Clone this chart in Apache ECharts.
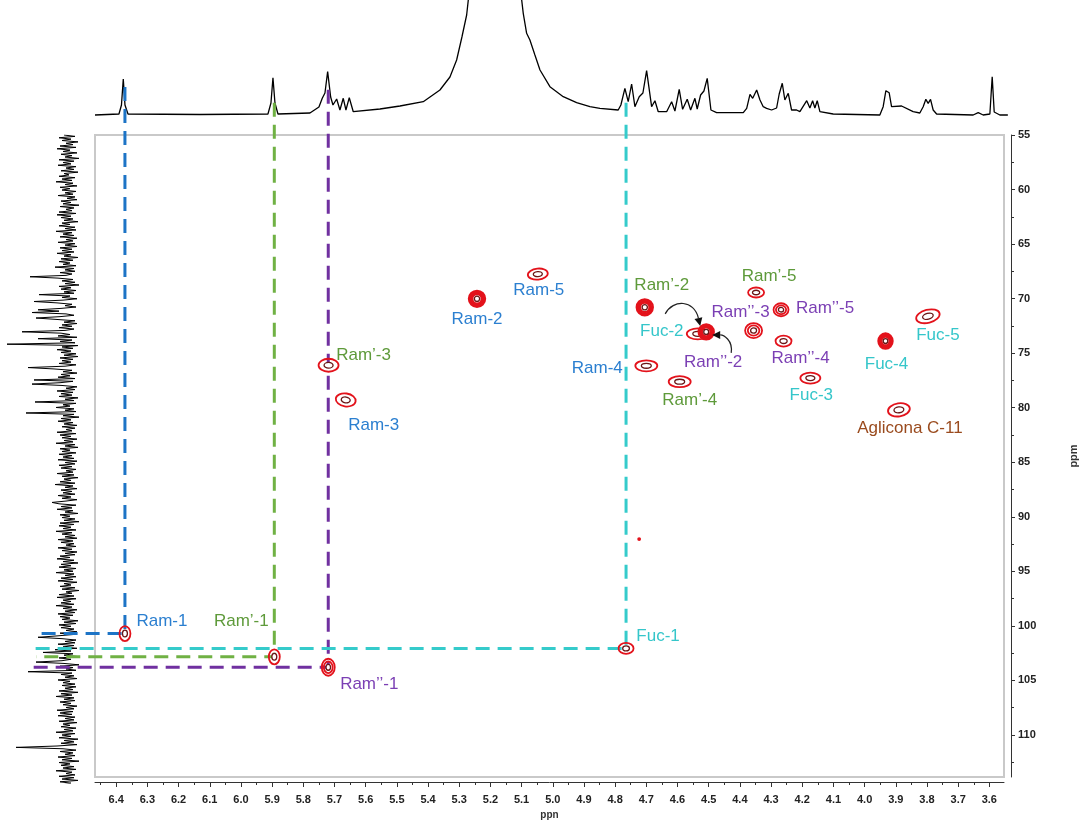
<!DOCTYPE html>
<html><head><meta charset="utf-8">
<script src="https://cdn.jsdelivr.net/npm/echarts@6/dist/echarts.min.js"></script>
<style>html,body{margin:0;padding:0;background:#fff;overflow:hidden;width:1087px;height:825px}#c{width:1087px;height:825px}</style>
</head><body><div id="c"></div>
<script>
// ---------------- DATA ----------------
const xTickLabels = [6.4,6.3,6.2,6.1,6.0,5.9,5.8,5.7,5.6,5.5,5.4,5.3,5.2,5.1,5.0,4.9,4.8,4.7,4.6,4.5,4.4,4.3,4.2,4.1,4.0,3.9,3.8,3.7,3.6];
const yTickLabels = [55,60,65,70,75,80,85,90,95,100,105,110];

// HSQC cross-peaks (1H ppm, 13C ppm)
const peakNames = ['Ram-1','Ram’-1','Ram’’-1','Fuc-1','Ram’-3','Ram-3','Ram-2','Ram-5','Ram-4','Ram’-2','Fuc-2','Ram’’-2','Ram’’-3','Ram’-5','Ram’’-5','Ram’’-4','Fuc-4','Fuc-5','Fuc-3','Aglicona C-11','Ram’-4',''];
const peakH = [6.372,5.893,5.720,4.765,5.719,5.664,5.243,5.048,4.700,4.705,4.535,4.508,4.356,4.348,4.268,4.260,3.933,3.797,4.174,3.890,4.593,4.723];
const peakC = [100.71,102.84,103.80,102.07,76.11,79.29,70.02,67.75,76.16,70.80,73.23,73.05,72.93,69.44,71.02,73.89,73.89,71.62,77.29,80.20,77.62,92.05];
const peakGroup = ['Ram','Ram1','Ram2','Fuc','Ram1','Ram','Ram','Ram','Ram','Ram1','Fuc','Ram2','Ram2','Ram1','Ram2','Ram2','Fuc','Fuc','Fuc','Agl','Ram1','none'];

// anomeric correlations (indices into peaks) drawn as dashed guides
const anomericIdx = [0,1,2,3];

// 1H projection (top): ppm / intensity
const topPpm = [6.468,6.3914,6.3834,6.3776,6.3722,6.3626,6.1325,5.9152,5.9056,5.8992,5.8928,5.8832,5.7810,5.7522,5.7416,5.7330,5.7244,5.7148,5.7074,5.6956,5.6851,5.6745,5.6659,5.6553,5.6425,5.5572,5.4933,5.4188,5.3655,5.3335,5.3121,5.2952,5.2801,5.2696,5.2376,5.1865,5.1418,5.1098,5.0992,5.0884,5.0779,5.0619,5.0457,5.0139,4.9714,4.9286,4.8861,4.8541,4.7957,4.7871,4.7743,4.7637,4.7528,4.7423,4.7285,4.7167,4.7049,4.6889,4.6783,4.6677,4.6409,4.6249,4.6144,4.6007,4.5898,4.5751,4.5642,4.5505,4.5432,4.5323,4.5217,4.5112,4.4993,4.4811,4.3959,4.3850,4.3745,4.3658,4.3531,4.3425,4.3322,4.3214,4.3054,4.2894,4.2811,4.2713,4.2630,4.2522,4.2416,4.2256,4.2150,4.1931,4.1830,4.1743,4.1671,4.1596,4.1510,4.1085,3.9594,3.9488,3.9401,3.9297,3.9220,3.8900,3.8530,3.8316,3.8209,3.8124,3.8050,3.7974,3.7890,3.7780,3.6611,3.6450,3.6291,3.6077,3.6003,3.5939,3.5759,3.5503];
const topInt = [0,1,10,36,10,1,0.5,1,12,37.3,12,1,2,8,16.7,22,43.3,18,10,16,5,16.7,5,17.3,3.3,6,9,13.3,25,38,55,78,100,130,300,600,300,130,101.7,81.7,75,60,45,28.3,18.3,12.3,8.3,6.7,5,10,26.7,13.3,31,8.3,18.3,22,44.3,8.3,14.3,3.3,3.3,13.3,4,25.7,5.7,15.7,5,16.7,6,20,24,36.7,5,2.3,2.3,6.7,20.7,16.7,25,15,8.3,6.7,5,7,21,31.7,15,21.7,5,5,3.3,14.3,7,14.3,7,14.3,3.3,1,0,8.3,24.3,22.3,8.3,9,3.3,2,8.3,15.7,11.7,15.7,5,1,0,2.3,0,1,38.3,3,0,0];

// 13C projection (left): noise sampled every 0.125 ppm from 55 ppm, plus resolved signals
const leftStart = 55, leftStep = 0.125;
const leftNoise = [
 4,-7,9,-3,6,-10,2,-5,8,-8,11,-2,5,-9,7,-4,3,-11,9,-6,
 5,-3,10,-8,2,-6,7,-10,4,-1,9,-7,6,-4,12,-5,3,-9,8,-2,
 6,-8,3,-5,10,-7,1,-9,7,-3,5,-11,8,-6,2,-4,9,-8,11,-3,
 7,-5,4,-10,6,-2,9,-7,3,-8,12,-4,5,-6,8,-9,2,-5,10,-7,
 3,-9,8,-4,6,-6,11,-3,4,-10,7,-5,9,-2,5,-8,13,-6,3,-7,
 8,-4,2,-9,10,-5,6,-7,3,-11,9,-3,7,-8,4,-6,10,-2,6,-9,
 5,-7,11,-4,3,-8,7,-5,9,-10,2,-6,8,-3,12,-7,4,-9,6,-4,
 9,-6,3,-8,7,-2,10,-9,5,-4,8,-7,2,-10,6,-5,11,-3,7,-8,
 4,-10,8,-5,6,-3,9,-8,3,-6,14,-4,5,-9,7,-2,10,-7,4,-5,
 8,-3,6,-9,2,-7,11,-5,7,-4,9,-10,3,-6,8,-8,5,-2,12,-6,
 3,-8,9,-6,5,-11,7,-3,10,-5,4,-9,6,-7,2,-4,11,-8,8,-3,
 6,-9,4,-5,12,-7,3,-10,8,-2,6,-8,9,-4,5,-6,10,-9,3,-7,
 9,-4,7,-8,2,-5,11,-6,6,-10,4,-3,8,-7,13,-5,3,-9,7,-4,
 5,-7,10,-3,6,-9,2,-6,9,-8,7,-4,11,-5,3,-10,8,-2,6,-7,
 4,-11,8,-6,9,-3,5,-8,12,-4,6,-7,3,-9,10,-5,7,-6,2,-8,
 10,-4,6,-9,3,-7,8,-2,11,-6,5,-10,7,-3,9,-8,4,-5,12,-6,
 3,-8,7,-5,10,-9,4,-3,8,-7,6,-11,2,-4,9,-6,11,-8,5,-3,
 7,-6,12,-4,5,-9,3,-7,10,-5,8,-2,6,-10,4,-8,9,-3,7,-6,
 2,-9,8,-5,11,-4,6,-8,3,-7,10,-6,5,-9,13,-3,7,-5,4,-10,
 9,-3,6,-7,4,-11,8,-5,2,-8,11,-4,7,-6,3,-9,10,-2,5,-7,
 6,-8,3,-5,9,-10,7,-4,12,-6,4,-7,8,-3,5,-9,2,-6,11,-5,
 8,-4,10,-7,3,-6,9,-9,5,-2,7,-8,4,-5,12,-7,6,-3,9,-10,
 4,-6,7,-9,11,-3,5,-8,8,-5,3,-7,10,-4,6,-11,9,-2,7,-6,
 5,-8,12,-4,2,-7,9,-6,6,-10,8,-3,4,-9,7,-5,11,-7,3,-4];
const spikePpm = [67.84,69.50,70.11,70.86,71.11,71.62,72.89,73.44,73.95,76.16,77.23,77.62,79.29,80.25,88.4,100.68,102.05,102.84,103.77,110.65];
const spikeInt = [38,29,34,30,36,32,46,30,61,40,34,36,33,42,16,30,25,32,40,52];

// ---------------- LAYOUT / STYLE ----------------
const X_MIN = 3.553, X_MAX = 6.468, Y_MIN = 55, Y_MAX = 113.86;
const groupColor = {Ram:'#2b7fd0', Ram1:'#5e9a3a', Ram2:'#7b3fb4', Fuc:'#35c6ca', Agl:'#9a4b1e', none:'#e3121b'};
const guideColor = {Ram:'#1d74c6', Ram1:'#70b144', Ram2:'#7030a0', Fuc:'#35cbcb'};
// guide extents (top end in 13C units, left end in 1H units) for each anomeric guide
const guideTop = [50.59, 52.05, 50.86, 52.05];
const guideLeft = [6.650, 6.657, 6.682, 6.663];
// contour shape per peak: [rx, ry, rings, rotation]
const peakShape = [[5.5,7.5,2,0],[5.5,7.5,2,0],[6.5,8.5,3,0],[7.5,5.5,2,0],[10,6.5,2,0],[10,6.5,2,-0.15],[8,8,4,0],[10,5.5,2,0.1],[11,5.5,2,0],[8,8,4,0],[11,5.5,2,0],[7.5,7.5,4,0],[8.5,7.5,3,0],[8,5,2,0],[7.5,6.5,3,0],[8,5.5,2,0],[7,7.5,4,0],[12,6.5,2,0.25],[10,5.5,2,0],[11,6.5,2,0.15],[11,5.5,2,0],[1,1,1,0]];
const labelOffset = [[37,-12],[-33,-35],[41,17],[32,-12],[35,-10],[28,25],[0,20],[1,16],[-49,3],[17,-22],[-36,-3],[7,30],[-13,-18],[13,-16],[44,-1],[17,17],[1,23],[10,19],[1,17],[11,18],[10,19],[0,0]];
const RINGS = {1:[1],2:[1,0.45],3:[1,0.68,0.35],4:[1,0.8,0.6,0.33]};
const ARROWS = [
  {p0:[-41,-18], c1:[-33,-33], c2:[-12,-32], p3:[-6,-6]},
  {p0:[25,21], c1:[27,8], c2:[17,3], p3:[6,3]}
];
const LABEL_FONT = '17px "Liberation Sans", Arial, sans-serif';
const TICK_FONT = {color:'#222', fontFamily:'Liberation Sans', fontWeight:'bold', fontSize:11};

// ---------------- BUILD ----------------
const xMinorTicks = xTickLabels.map(v => +(v + 0.05).toFixed(2)).concat([3.55]);
const yMinorTicks = yTickLabels.map(v => v + 2.5);

const topData = topPpm.map((p, i) => [p, topInt[i]]);
const leftVals = leftNoise.slice();
spikePpm.forEach((p, k) => { const i = Math.round((p - leftStart) / leftStep); if (i >= 0 && i < leftVals.length) leftVals[i] = spikeInt[k]; });
const leftData = leftVals.map((v, i) => [v, leftStart + i * leftStep]);
const peakData = peakH.map((h, i) => [h, peakC[i]]);
const guideData = anomericIdx.map(pi => [peakH[pi], peakC[pi]]);

function renderGuide(params, api) {
  const k = params.dataIndex;
  const pi = anomericIdx[k];
  const a = api.coord([api.value(0), guideTop[k]]);
  const b = api.coord([api.value(0), api.value(1)]);
  const c = api.coord([guideLeft[k], api.value(1)]);
  return {type:'polyline', shape:{points:[a, b, c]},
    style:{stroke: guideColor[peakGroup[pi]], lineWidth:3, lineDash:[14,8], fill:null}};
}

function renderPeak(params, api) {
  const i = params.dataIndex;
  const p = api.coord([api.value(0), api.value(1)]);
  const s = peakShape[i];
  const rings = RINGS[s[2]];
  const children = [];
  rings.forEach((k, j) => {
    const last = rings.length > 1 && j === rings.length - 1;
    const single = rings.length === 1;
    children.push({type:'ellipse', x:p[0], y:p[1], rotation:s[3],
      shape:{cx:0, cy:0, rx:s[0]*k, ry:s[1]*k},
      style:{fill: single ? '#e3121b' : (last ? '#fff' : 'none'),
             stroke: last ? '#6a1616' : '#e3121b',
             lineWidth: (s[2] >= 4 && !last) ? 2.4 : (last ? 1.3 : 1.8)}});
  });
  if (peakNames[i]) {
    children.push({type:'text', x:p[0] + labelOffset[i][0], y:p[1] + labelOffset[i][1],
      style:{text: peakNames[i], fill: groupColor[peakGroup[i]], font: LABEL_FONT,
             align:'center', verticalAlign:'middle', textAlign:'center', textVerticalAlign:'middle'}});
  }
  return {type:'group', children};
}

function renderArrows(params, api) {
  const p = api.coord([api.value(0), api.value(1)]);
  const children = [];
  ARROWS.forEach(a => {
    const P = v => [p[0] + v[0], p[1] + v[1]];
    const p0 = P(a.p0), c1 = P(a.c1), c2 = P(a.c2), p3 = P(a.p3);
    let dx = p3[0] - c2[0], dy = p3[1] - c2[1];
    const L = Math.hypot(dx, dy); dx /= L; dy /= L;
    const base = [p3[0] - dx * 8, p3[1] - dy * 8];
    children.push({type:'bezierCurve', shape:{x1:p0[0], y1:p0[1], cpx1:c1[0], cpy1:c1[1], cpx2:c2[0], cpy2:c2[1], x2:base[0], y2:base[1]},
      style:{stroke:'#222', lineWidth:1.2, fill:null}});
    children.push({type:'polygon', shape:{points:[p3, [base[0] - dy * 4, base[1] + dx * 4], [base[0] + dy * 4, base[1] - dx * 4]]},
      style:{fill:'#111'}});
  });
  return {type:'group', children};
}

const chart = echarts.init(document.getElementById('c'));
chart.setOption({
  animation:false,
  backgroundColor:'#fff',
  grid:[
    {left:95, right:80, top:135, bottom:42, show:true, borderColor:'#c9c9c9', borderWidth:2, backgroundColor:'rgba(0,0,0,0)'},
    {left:95, right:80, top:0, height:118},
    {left:5, width:80, top:135, bottom:42}
  ],
  xAxis:[
    {gridIndex:0, type:'value', min:X_MIN, max:X_MAX, inverse:true, position:'bottom', offset:5,
     axisLine:{show:true, lineStyle:{color:'#333', width:1}},
     axisTick:{show:true, length:5, customValues:xTickLabels, lineStyle:{color:'#333'}},
     axisLabel:{show:true, customValues:xTickLabels, formatter:v => v.toFixed(1), margin:12, ...TICK_FONT},
     splitLine:{show:false},
     name:'ppn', nameLocation:'middle', nameGap:28, nameTextStyle:{color:'#333', fontFamily:'Liberation Sans', fontWeight:'bold', fontSize:10}},
    {gridIndex:0, type:'value', min:X_MIN, max:X_MAX, inverse:true, position:'bottom', offset:5,
     axisLine:{show:false}, axisTick:{show:true, length:3, customValues:xMinorTicks, lineStyle:{color:'#333'}},
     axisLabel:{show:false}, splitLine:{show:false}},
    {gridIndex:1, type:'value', min:X_MIN, max:X_MAX, inverse:true, show:false},
    {gridIndex:2, type:'value', min:-17, max:63, inverse:true, show:false}
  ],
  yAxis:[
    {gridIndex:0, type:'value', min:Y_MIN, max:Y_MAX, inverse:true, position:'right', offset:7,
     axisLine:{show:true, lineStyle:{color:'#333', width:1}},
     axisTick:{show:true, length:4, customValues:yTickLabels, lineStyle:{color:'#333'}},
     axisLabel:{show:true, customValues:yTickLabels, margin:7, ...TICK_FONT},
     splitLine:{show:false},
     name:'ppm', nameLocation:'middle', nameRotate:90, nameGap:57, nameTextStyle:{color:'#333', fontFamily:'Liberation Sans', fontWeight:'bold', fontSize:11}},
    {gridIndex:0, type:'value', min:Y_MIN, max:Y_MAX, inverse:true, position:'right', offset:7,
     axisLine:{show:false}, axisTick:{show:true, length:3, customValues:yMinorTicks, lineStyle:{color:'#333'}},
     axisLabel:{show:false}, splitLine:{show:false}},
    {gridIndex:1, type:'value', min:-3, max:115, show:false},
    {gridIndex:2, type:'value', min:Y_MIN, max:Y_MAX, inverse:true, show:false}
  ],
  series:[
    {type:'line', xAxisIndex:3, yAxisIndex:3, data:leftData, symbol:'none', silent:true, z:2,
     lineStyle:{color:'#000', width:1}},
    {type:'line', xAxisIndex:2, yAxisIndex:2, data:topData, symbol:'none', silent:true, z:2,
     lineStyle:{color:'#000', width:1.3}},
    {type:'custom', xAxisIndex:0, yAxisIndex:0, data:guideData, renderItem:renderGuide, z:3, silent:true, clip:false},
    {type:'custom', xAxisIndex:0, yAxisIndex:0, data:peakData, renderItem:renderPeak, z:5, silent:true},
    {type:'custom', xAxisIndex:0, yAxisIndex:0, data:[[peakH[11], peakC[11]]], renderItem:renderArrows, z:6, silent:true}
  ]
});
</script>
</body></html>
